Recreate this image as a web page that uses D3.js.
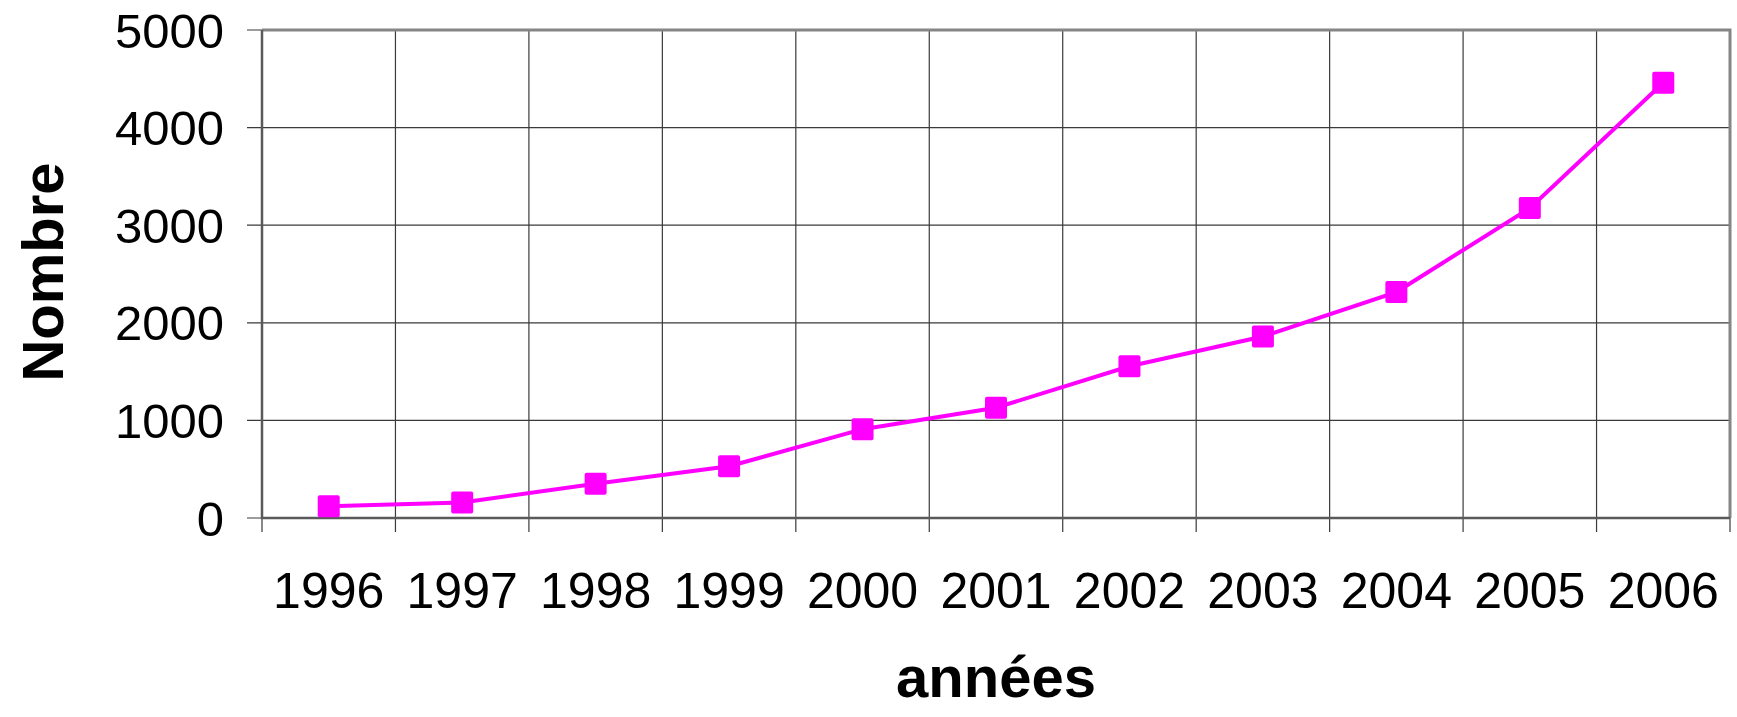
<!DOCTYPE html>
<html>
<head>
<meta charset="utf-8">
<script src="https://cdn.jsdelivr.net/npm/d3@7"></script>
<style>
	html, body { margin: 0; padding: 0; background: #fff; }
	svg { display: block; }
	text { font-family: "Liberation Sans", Arial, sans-serif; fill: #000; }
</style>
</head>
<body>
<div id="chart"></div>
<script>
///////////////////////////////////////////////////////////////////////////
//////////////////////////// data /////////////////////////////////////////
///////////////////////////////////////////////////////////////////////////

const years = ["1996", "1997", "1998", "1999", "2000", "2001", "2002", "2003", "2004", "2005", "2006"];
const counts = [120, 160, 350, 530, 910, 1130, 1555, 1860, 2315, 3175, 4460];
const yTicks = [0, 1000, 2000, 3000, 4000, 5000];

const xTitle = "années";
const yTitle = "Nombre";

///////////////////////////////////////////////////////////////////////////
//////////////////////////// svg //////////////////////////////////////////
///////////////////////////////////////////////////////////////////////////

var width = 1737,
	height = 717,
	margin = { top: 30, right: 7, bottom: 199, left: 262 };

const svg = d3.select("#chart")
	.append("svg")
	.attr("width", width)
	.attr("height", height);

// scales
var xScale = d3.scaleBand()
	.domain(years)
	.range([margin.left, width - margin.right])
	.padding(0);

var yScale = d3.scaleLinear()
	.domain([0, 5000])
	.range([height - margin.bottom, margin.top]);

const x0 = xScale.range()[0],
	x1 = xScale.range()[1],
	y0 = yScale(0),
	y1 = yScale(5000);

///////////////////////////////////////////////////////////////////////////
//////////////////////////// grid /////////////////////////////////////////
///////////////////////////////////////////////////////////////////////////

// vertical lines at the band edges, ticks go below the axis
const edges = years.map((d) => xScale(d)).concat([x1]);

svg.append("g")
	.selectAll("line")
	.data(edges)
	.enter()
	.append("line")
	.attr("x1", (d) => d)
	.attr("x2", (d) => d)
	.attr("y1", y1)
	.attr("y2", y0 + 14)
	.attr("stroke", "#3a3a3a")
	.attr("stroke-width", 1.2);

// horizontal lines + ticks on the left
svg.append("g")
	.selectAll("line")
	.data(yTicks)
	.enter()
	.append("line")
	.attr("x1", x0 - 15)
	.attr("x2", x1)
	.attr("y1", (d) => yScale(d))
	.attr("y2", (d) => yScale(d))
	.attr("stroke", "#3a3a3a")
	.attr("stroke-width", 1.2);

// frame: top + right thick grey, left + bottom darker
svg.append("path")
	.attr("d", "M" + x0 + "," + y1 + "H" + x1 + "V" + y0)
	.attr("fill", "none")
	.attr("stroke", "#858585")
	.attr("stroke-width", 3);

svg.append("path")
	.attr("d", "M" + x0 + "," + y1 + "V" + y0 + "H" + x1)
	.attr("fill", "none")
	.attr("stroke", "#5a5a5a")
	.attr("stroke-width", 2.5);

///////////////////////////////////////////////////////////////////////////
//////////////////////////// axes labels //////////////////////////////////
///////////////////////////////////////////////////////////////////////////

svg.append("g")
	.selectAll("text")
	.data(yTicks)
	.enter()
	.append("text")
	.attr("x", 224)
	.attr("y", (d) => yScale(d))
	.attr("dy", "0.36em")
	.attr("text-anchor", "end")
	.style("font-size", "49px")
	.text((d) => d);

svg.append("g")
	.selectAll("text")
	.data(years)
	.enter()
	.append("text")
	.attr("x", (d) => xScale(d) + xScale.bandwidth() / 2)
	.attr("y", 608)
	.attr("text-anchor", "middle")
	.style("font-size", "50px")
	.text((d) => d);

svg.append("text")
	.attr("x", (x0 + x1) / 2)
	.attr("y", 697)
	.attr("text-anchor", "middle")
	.style("font-size", "58px")
	.style("font-weight", "bold")
	.text(xTitle);

svg.append("text")
	.attr("transform", "translate(63," + 272 + ") rotate(-90)")
	.attr("text-anchor", "middle")
	.style("font-size", "58px")
	.style("font-weight", "bold")
	.text(yTitle);

///////////////////////////////////////////////////////////////////////////
//////////////////////////// plot /////////////////////////////////////////
///////////////////////////////////////////////////////////////////////////

const data = years.map((d, i) => ({ year: d, value: counts[i] }));
const cx = (d) => xScale(d.year) + xScale.bandwidth() / 2;

var line = d3.line()
	.x(cx)
	.y((d) => yScale(d.value));

svg.append("path")
	.datum(data)
	.attr("d", line)
	.attr("fill", "none")
	.attr("stroke", "#ff00ff")
	.attr("stroke-width", 4);

var size = 22;

svg.append("g")
	.selectAll("rect")
	.data(data)
	.enter()
	.append("rect")
	.attr("x", (d) => cx(d) - size / 2)
	.attr("y", (d) => yScale(d.value) - size / 2)
	.attr("width", size)
	.attr("height", size)
	.attr("rx", 2)
	.attr("fill", "#ff00ff");
</script>
</body>
</html>
